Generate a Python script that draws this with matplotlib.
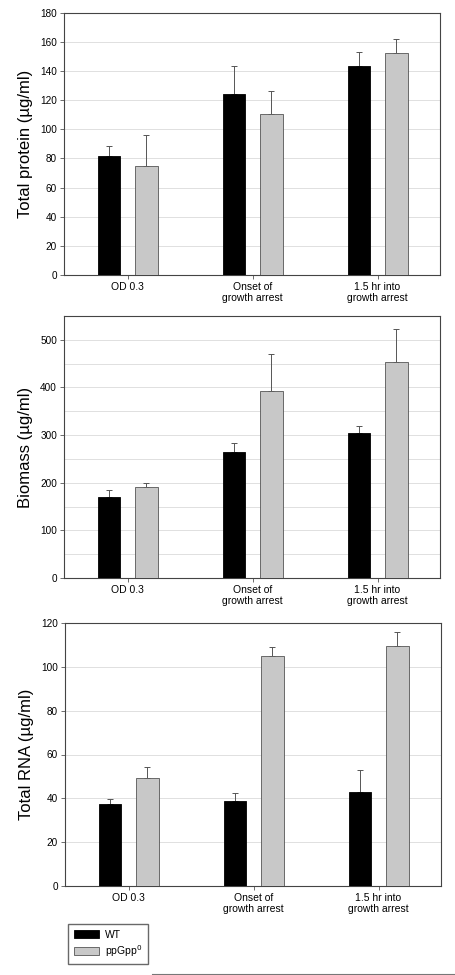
import matplotlib
matplotlib.use('Agg')
import matplotlib.pyplot as plt
import numpy as np
from matplotlib.lines import Line2D
from matplotlib.patches import Patch

plt.rcParams['font.family'] = ['Liberation Sans', 'DejaVu Sans']

# data
groups   = ['OD 0.3', 'Onset of\ngrowth arrest', '1.5 hr into\ngrowth arrest']
series   = ['WT', 'ppGpp$^0$']

protein_wt     = [81.9, 124.4, 143.4]
protein_wt_err = [6.6, 18.8, 9.8]
protein_pp     = [74.6, 110.7, 152.1]
protein_pp_err = [21.2, 15.3, 9.6]

biomass_wt     = [169.2, 264.3, 303.5]
biomass_wt_err = [16.1, 18.9, 15.4]
biomass_pp     = [190.2, 392.3, 453.1]
biomass_pp_err = [9.1, 78.3, 69.3]

rna_wt     = [37.3, 38.8, 42.9]
rna_wt_err = [2.3, 3.5, 10.1]
rna_pp     = [49.2, 104.9, 109.5]
rna_pp_err = [5.2, 4.1, 6.4]

panels = [
    ('Total protein (\u00b5g/ml)', protein_wt, protein_wt_err, protein_pp, protein_pp_err, 180, 20, 20),
    ('Biomass (\u00b5g/ml)', biomass_wt, biomass_wt_err, biomass_pp, biomass_pp_err, 550, 100, 50),
    ('Total RNA (\u00b5g/ml)', rna_wt, rna_wt_err, rna_pp, rna_pp_err, 120, 20, 20),
]

W, H = 456, 975
fig = plt.figure(figsize=(W / 100, H / 100), dpi=100)

# axes boxes in pixels: left, right, top, bottom
boxes = [(64, 440, 12.7, 275), (64, 440, 316, 578), (65, 441, 623, 886)]

gray = '#c8c8c8'
edge = '#555555'
x = np.arange(len(groups))
w = 0.18
off = 0.15

for (ylab, wt, wte, pp, ppe, ymax, major, grid), (l, r, t, b) in zip(panels, boxes):
    ax = fig.add_axes([l / W, 1 - b / H, (r - l) / W, (b - t) / H])
    ax.bar(x - off, wt, w, color='black', edgecolor='black', linewidth=0.6, zorder=3)
    ax.bar(x + off, pp, w, color=gray, edgecolor=edge, linewidth=0.6, zorder=3)
    ax.errorbar(x - off, wt, yerr=[np.zeros(3), wte], fmt='none', ecolor=edge,
                elinewidth=0.7, capsize=2.5, capthick=0.7, zorder=2)
    ax.errorbar(x + off, pp, yerr=[np.zeros(3), ppe], fmt='none', ecolor=edge,
                elinewidth=0.7, capsize=2.5, capthick=0.7, zorder=2)
    ax.set_xlim(-0.51, 2.5)
    ax.set_ylim(0, ymax)
    ax.set_yticks(np.arange(0, ymax + 0.1, major))
    for g in np.arange(grid, ymax, grid):
        ax.axhline(g, color='#e0e0e0', linewidth=0.7, zorder=1)
    ax.set_xticks(x)
    ax.set_xticklabels(groups, fontsize=7.5, linespacing=1.1)
    ax.tick_params(axis='y', labelsize=7.2, length=3, width=0.6, color=edge, pad=2)
    ax.tick_params(axis='x', length=3, width=0.6, color=edge, pad=2)
    for s in ax.spines.values():
        s.set_color('#444444')
        s.set_linewidth(0.8)
    ax.set_ylabel(ylab, fontsize=12)
    ax.yaxis.set_label_coords(-31 / (r - l), 0.5)

handles = [Patch(facecolor='black', edgecolor='black', linewidth=0.6),
           Patch(facecolor=gray, edgecolor=edge, linewidth=0.6)]
fig.legend(handles, series, loc='upper left',
           bbox_to_anchor=(68 / W, 1 - 924 / H), fontsize=7.5,
           frameon=True, fancybox=False, edgecolor='#444444',
           handlelength=2.4, handleheight=0.9, borderpad=0.55,
           labelspacing=0.3, handletextpad=0.6, borderaxespad=0)

fig.add_artist(Line2D([152 / W, 1.0], [1 - 974 / H, 1 - 974 / H],
                      color='#777777', linewidth=0.8))

fig.savefig('out.png', dpi=100)
